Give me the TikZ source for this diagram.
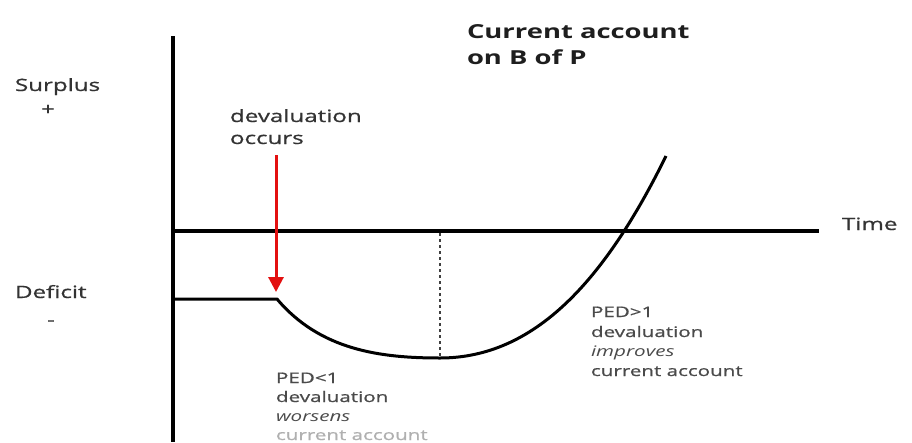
\documentclass[tikz,border=0pt]{standalone}
\usepackage{fontspec}
\setmainfont{Open Sans}[FakeStretch=1.42]
\newfontfamily\labfont{Open Sans}[FakeStretch=1.42, FakeBold=0.8]
\usetikzlibrary{arrows.meta}
\definecolor{lab}{HTML}{333333}
\definecolor{ttl}{HTML}{1E1E1E}
\definecolor{ped}{HTML}{4A4A4A}
\definecolor{pedfade}{HTML}{B0B0B0}
\definecolor{arr}{HTML}{E31010}
\tikzset{
  txt/.style={anchor=base west, inner sep=0pt, outer sep=0pt},
  lbl/.style={txt, text=lab, font=\labfont\fontsize{17}{20}\selectfont},
  ttlbl/.style={txt, text=ttl, font=\fontsize{19.3}{24}\selectfont\bfseries},
  pedlbl/.style={txt, text=ped, font=\labfont\fontsize{14.5}{18}\selectfont},
  pedit/.style={pedlbl, font=\fontsize{14.5}{18}\selectfont\itshape},
  axisline/.style={line width=4pt, black},
  curveline/.style={line width=3pt, black},
  dashline/.style={line width=2pt, black!75, dash pattern=on 3pt off 3pt},
  redarrow/.style={line width=3pt, arr, -{Triangle[length=15pt,width=15pt]}}
}
\begin{document}
\begin{tikzpicture}[x=1pt,y=-1pt]
\useasboundingbox (0,0) rectangle (912,442);
\fill[white] (0,0) rectangle (912,442);
% axes
\coordinate (ytop) at (173,36);
\coordinate (ybot) at (173,442);
\coordinate (xleft) at (171,231);
\coordinate (xright) at (819,231);
\draw[axisline] (ytop) -- (ybot);
\draw[axisline] (xleft) -- (xright);
% curve
\coordinate (start) at (173,299);
\coordinate (kink) at (277,299);
\coordinate (low) at (440,358);
\coordinate (high) at (666,156);
\coordinate (lowaxis) at (440,233);
\draw[curveline, line join=round] (start) -- (kink)
  .. controls (320,350) and (380,358) .. (low)
  .. controls (535,358) and (605,280) .. (high);
\draw[dashline] (lowaxis) -- (low);
% red arrow
\coordinate (arrtop) at (276,155);
\coordinate (arrtip) at (276,292);
\draw[redarrow] (arrtop) -- (arrtip);
% labels
\node[ttlbl] (t1) at (467,38) {Current account};
\node[ttlbl] (t2) at (467,64) {on B of P};
\node[lbl] (surplus) at (15,91) {Surplus};
\node[lbl, anchor=center] (plus) at (48,110) {+};
\node[lbl] (deficit) at (15,298) {Deficit};
\node[lbl, anchor=center] (minus) at (51,323) {-};
\node[lbl] (dev1) at (230,122) {devaluation};
\node[lbl] (dev2) at (230,144) {occurs};
\node[lbl] (time) at (842,230) {Time};
% PED<1
\node[pedlbl] (a1) at (276,383) {PED<1};
\node[pedlbl] (a2) at (276,402) {devaluation};
\node[pedit] (a3) at (276,421) {worsens};
\node[pedlbl, text=pedfade] (a4) at (276,440) {current account};
% PED>1
\node[pedlbl] (b1) at (591,317) {PED>1};
\node[pedlbl] (b2) at (591,337) {devaluation};
\node[pedit] (b3) at (591,356) {improves};
\node[pedlbl] (b4) at (591,376) {current account};
\end{tikzpicture}
\end{document}
